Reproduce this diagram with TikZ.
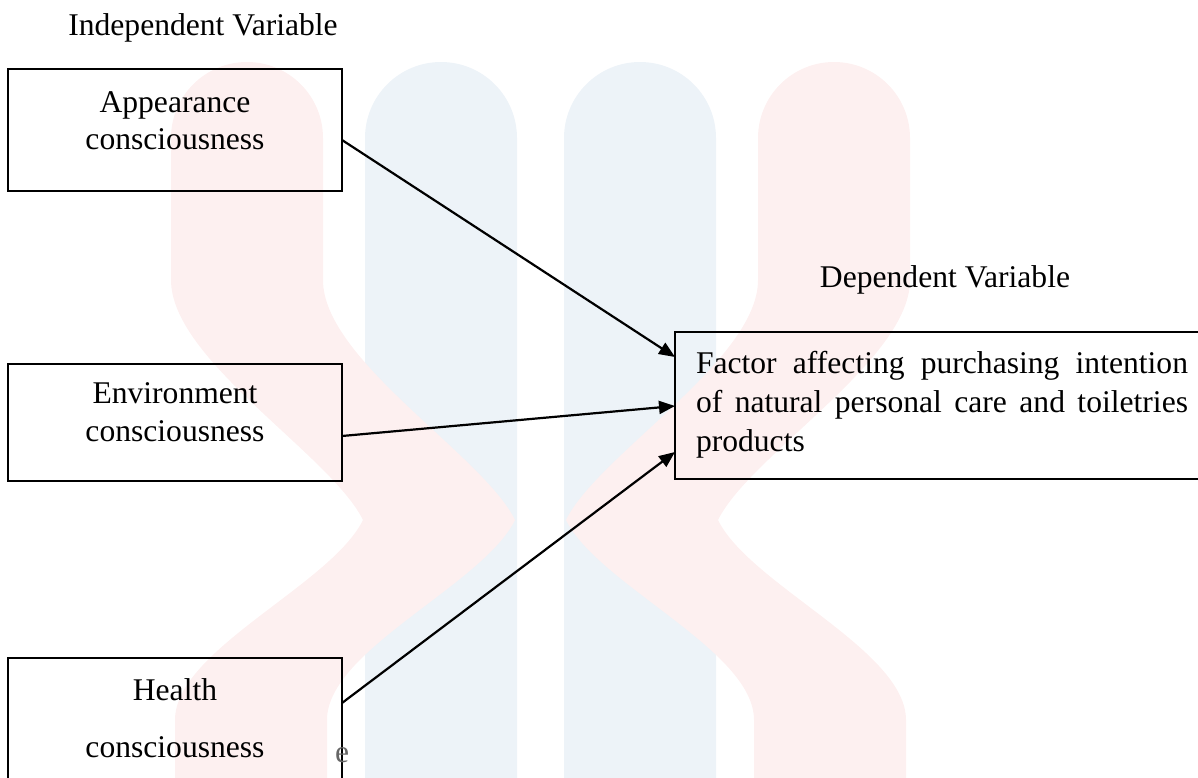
\documentclass[tikz,border=0pt]{standalone}
\usepackage{fontspec}
\setmainfont{Liberation Serif}
\usetikzlibrary{arrows.meta}
\definecolor{wmpink}{RGB}{253,240,240}
\definecolor{wmblue}{RGB}{237,243,248}
\begin{document}
\begin{tikzpicture}[x=1pt,y=-1pt,
  box/.style={draw=black,line width=2.2pt,inner sep=0pt,outer sep=0pt},
  lbl/.style={inner sep=0pt,outer sep=0pt,font=\fontsize{31.6}{38}\selectfont,anchor=base},
  conn/.style={line width=2.2pt,-{Triangle[length=16pt,width=13pt]}}]
\useasboundingbox (0,0) rectangle (1198,778);
\begin{scope}
\clip (0,0) rectangle (1198,778);
% watermark
\fill[wmblue] (365,800) -- (365,138) arc[start angle=180,end angle=360,radius=76] -- (517,800) -- cycle;
\fill[wmblue] (564,800) -- (564,138) arc[start angle=180,end angle=360,radius=76] -- (716,800) -- cycle;
\fill[wmpink] (171,138) -- (171,280) .. controls (171,360) and (331,455) .. (363,520)
  .. controls (331,585) and (175,650) .. (175,720) -- (175,800) -- (327,800) -- (327,720)
  .. controls (327,650) and (483,585) .. (515,520) .. controls (483,455) and (323,360) .. (323,280)
  -- (323,138) arc[start angle=0,end angle=-180,radius=76] -- cycle;
\fill[wmpink] (910,138) -- (910,280) .. controls (910,360) and (750,455) .. (718,520)
  .. controls (750,585) and (906,650) .. (906,720) -- (906,800) -- (754,800) -- (754,720)
  .. controls (754,650) and (598,585) .. (566,520) .. controls (598,455) and (758,360) .. (758,280)
  -- (758,138) arc[start angle=180,end angle=360,radius=76] -- cycle;

% boxes
\node[box,minimum width=334pt,minimum height=122pt] (app) at (175,130) {};
\node[box,minimum width=334pt,minimum height=117pt] (env) at (175,422.5) {};
\node[box,minimum width=334pt,minimum height=142pt] (hea) at (175,729) {};
\node[box,minimum width=530pt,minimum height=147pt] (dep) at (940,405.5) {};

% texts
\node[lbl] (indep) at (203,36) {Independent Variable};
\node[lbl] (depv) at (945,287) {Dependent Variable};
\node[lbl] (appA) at (175,113) {Appearance};
\node[lbl] (appB) at (175,150) {consciousness};
\node[lbl] (envA) at (175,403) {Environment};
\node[lbl] (envB) at (175,441) {consciousness};
\node[lbl] (heaA) at (175,700) {Health};
\node[lbl] (heaB) at (175,757) {consciousness};
\node[lbl,anchor=base west,text=black!60] (stray) at (335,762) {e};
\node[lbl,anchor=base west] (depA) at (696,373) {\makebox[492pt][s]{Factor affecting purchasing intention}};
\node[lbl,anchor=base west] (depB) at (696,412) {\makebox[492pt][s]{of natural personal care and toiletries}};
\node[lbl,anchor=base west] (depC) at (696,451) {products};

% connectors
\draw[conn] ([yshift=-71pt]app.north east) -- ([yshift=-25pt]dep.north west);
\draw[conn] ([yshift=-72pt]env.north east) -- ([yshift=-74pt]dep.north west);
\draw[conn] ([yshift=-45pt]hea.north east) -- ([yshift=-120pt]dep.north west);
\end{scope}
\end{tikzpicture}
\end{document}
